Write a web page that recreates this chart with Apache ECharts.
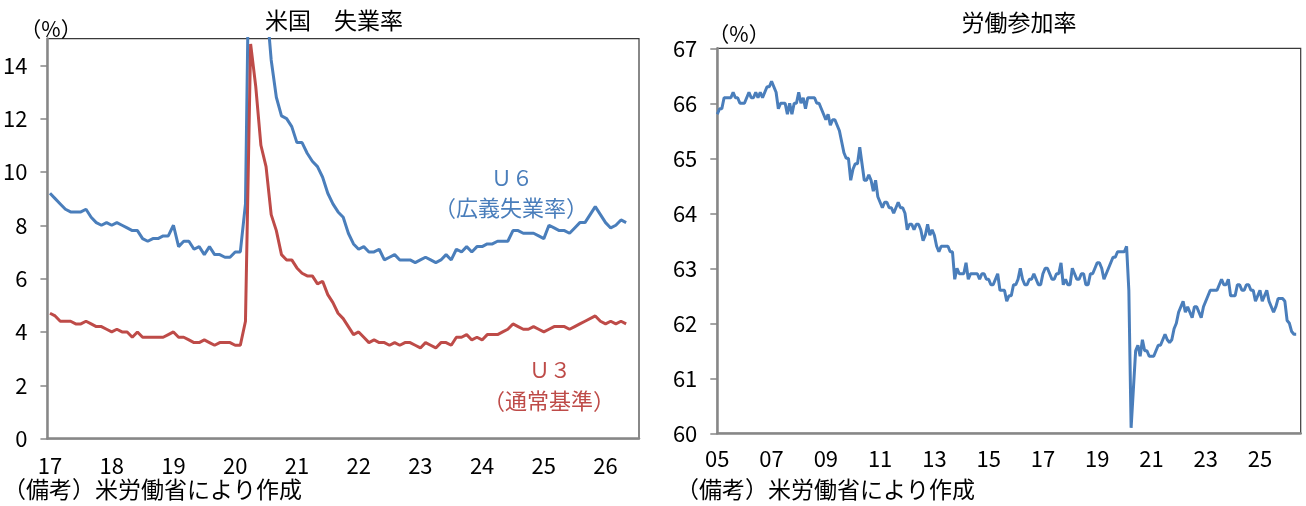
<!DOCTYPE html>
<html>
<head>
<meta charset="utf-8">
<script src="https://cdn.jsdelivr.net/npm/echarts@6/dist/echarts.min.js"></script>
<style>
  html, body { margin: 0; padding: 0; background: #fff; }
  #chart { width: 1306px; height: 506px; }
</style>
</head>
<body>
<div id="chart"></div>
<script>
// 失業率（月次、2017/1〜2026/5）
const u6 = [
  9.2, 9.0, 8.8, 8.6, 8.5, 8.5, 8.5, 8.6, 8.3, 8.1, 8.0, 8.1,
  8.0, 8.1, 8.0, 7.9, 7.8, 7.8, 7.5, 7.4, 7.5, 7.5, 7.6, 7.6,
  8.0, 7.2, 7.4, 7.4, 7.1, 7.2, 6.9, 7.2, 6.9, 6.9, 6.8, 6.8,
  7.0, 7.0, 8.8, 22.9, 21.2, 18.0, 16.5, 14.2, 12.8, 12.1, 12.0, 11.7,
  11.1, 11.1, 10.7, 10.4, 10.2, 9.8, 9.2, 8.8, 8.5, 8.3, 7.7, 7.3,
  7.1, 7.2, 7.0, 7.0, 7.1, 6.7, 6.8, 6.9, 6.7, 6.7, 6.7, 6.6,
  6.7, 6.8, 6.7, 6.6, 6.7, 6.9, 6.7, 7.1, 7.0, 7.2, 7.0, 7.2,
  7.2, 7.3, 7.3, 7.4, 7.4, 7.4, 7.8, 7.8, 7.7, 7.7, 7.7, 7.6,
  7.5, 8.0, 7.9, 7.8, 7.8, 7.7, 7.9, 8.1, 8.1, null, 8.7, 8.4,
  8.1, 7.9, 8.0, 8.2, 8.1
]
const u3 = [
  4.7, 4.6, 4.4, 4.4, 4.4, 4.3, 4.3, 4.4, 4.3, 4.2, 4.2, 4.1,
  4.0, 4.1, 4.0, 4.0, 3.8, 4.0, 3.8, 3.8, 3.8, 3.8, 3.8, 3.9,
  4.0, 3.8, 3.8, 3.7, 3.6, 3.6, 3.7, 3.6, 3.5, 3.6, 3.6, 3.6,
  3.5, 3.5, 4.4, 14.8, 13.2, 11.0, 10.2, 8.4, 7.8, 6.9, 6.7, 6.7,
  6.4, 6.2, 6.1, 6.1, 5.8, 5.9, 5.4, 5.1, 4.7, 4.5, 4.2, 3.9,
  4.0, 3.8, 3.6, 3.7, 3.6, 3.6, 3.5, 3.6, 3.5, 3.6, 3.6, 3.5,
  3.4, 3.6, 3.5, 3.4, 3.6, 3.6, 3.5, 3.8, 3.8, 3.9, 3.7, 3.8,
  3.7, 3.9, 3.9, 3.9, 4.0, 4.1, 4.3, 4.2, 4.1, 4.1, 4.2, 4.1,
  4.0, 4.1, 4.2, 4.2, 4.2, 4.1, 4.2, 4.3, 4.4, null, 4.6, 4.4,
  4.3, 4.4, 4.3, 4.4, 4.3
]
// 労働参加率（月次、2005/1〜2026/5）
const lfpr = [
  65.8, 65.9, 65.9, 66.1, 66.1, 66.1, 66.1, 66.2, 66.1, 66.1, 66.0, 66.0,
  66.0, 66.1, 66.2, 66.1, 66.1, 66.2, 66.1, 66.2, 66.1, 66.2, 66.3, 66.3,
  66.4, 66.3, 66.2, 65.9, 66.0, 66.0, 66.0, 65.8, 66.0, 65.8, 66.0, 66.0,
  66.2, 66.0, 66.1, 65.9, 66.1, 66.1, 66.1, 66.1, 66.0, 66.0, 65.9, 65.8,
  65.7, 65.8, 65.6, 65.7, 65.7, 65.6, 65.5, 65.3, 65.1, 65.0, 65.0, 64.6,
  64.8, 64.9, 64.9, 65.2, 64.9, 64.6, 64.6, 64.7, 64.6, 64.4, 64.6, 64.3,
  64.2, 64.1, 64.2, 64.2, 64.1, 64.1, 64.0, 64.1, 64.2, 64.1, 64.1, 64.0,
  63.7, 63.8, 63.8, 63.7, 63.8, 63.8, 63.7, 63.5, 63.6, 63.8, 63.6, 63.7,
  63.6, 63.4, 63.3, 63.4, 63.4, 63.4, 63.4, 63.3, 63.3, 62.8, 63.0, 62.9,
  62.9, 62.9, 63.1, 62.8, 62.9, 62.9, 62.9, 62.9, 62.8, 62.9, 62.9, 62.8,
  62.8, 62.7, 62.7, 62.8, 62.9, 62.6, 62.6, 62.6, 62.4, 62.5, 62.5, 62.7,
  62.7, 62.8, 63.0, 62.8, 62.7, 62.7, 62.8, 62.8, 62.9, 62.8, 62.7, 62.7,
  62.9, 63.0, 63.0, 62.9, 62.8, 62.8, 62.9, 62.9, 63.1, 62.7, 62.8, 62.7,
  62.7, 63.0, 62.9, 62.8, 62.8, 62.9, 62.9, 62.7, 62.7, 62.9, 62.9, 63.0,
  63.1, 63.1, 63.0, 62.8, 62.9, 63.0, 63.1, 63.2, 63.2, 63.3, 63.3, 63.3,
  63.3, 63.4, 62.6, 60.1, 60.8, 61.5, 61.6, 61.4, 61.7, 61.5, 61.5, 61.4,
  61.4, 61.4, 61.5, 61.6, 61.6, 61.7, 61.8, 61.7, 61.65, 61.7, 61.9, 62.0,
  62.2, 62.3, 62.4, 62.2, 62.3, 62.2, 62.1, 62.3, 62.3, 62.2, 62.1, 62.3,
  62.4, 62.5, 62.6, 62.6, 62.6, 62.6, 62.7, 62.8, 62.7, 62.7, 62.8, 62.5,
  62.5, 62.5, 62.7, 62.7, 62.6, 62.6, 62.7, 62.7, 62.6, 62.6, 62.4, 62.5,
  62.6, 62.4, 62.5, 62.6, 62.4, 62.3, 62.2, 62.3, 62.45, null, 62.45, 62.4,
  62.05, 62.0, 61.85, 61.8, 61.8
]
const u3Ticks = [0, 2, 4, 6, 8, 10, 12, 14]
const lfprTicks = [60, 61, 62, 63, 64, 65, 66, 67]

function monthList(startYear, count) {
  const out = []
  for (let i = 0; i < count; i++) {
    out.push(String(startYear + Math.floor(i / 12)) + '/' + (i % 12 + 1))
  }
  return out
}
const monthsLeft = monthList(2017, 115)
const monthsRight = monthList(2005, 259)

const FONT = '"Noto Sans CJK JP", "Noto Sans", sans-serif'
const BLUE = '#4a7ebb'
const RED = '#be4b48'
const AXIS = '#878787'

function txt(text, x, y, size, color, align) {
  return {
    type: 'text',
    x: x, y: y,
    style: {
      text: text,
      fill: color || '#000',
      font: size + 'px ' + FONT,
      textAlign: align || 'center',
      textVerticalAlign: 'middle'
    }
  }
}

const myEcharts = echarts.init(document.getElementById('chart'))
myEcharts.setOption({
  animation: false,
  textStyle: { fontFamily: FONT },
  grid: [
    { left: 47, top: 38.6, width: 592, height: 400, show: true, borderColor: '#3a3a3a', borderWidth: 1.2 },
    { left: 717.3, top: 48.3, width: 583.4, height: 385, show: true, borderColor: '#3a3a3a', borderWidth: 1.2 }
  ],
  xAxis: [
    {
      type: 'category', gridIndex: 0, data: monthsLeft, boundaryGap: true,
      axisLine: { lineStyle: { color: AXIS, width: 2.5 } },
      axisTick: { show: false },
      axisLabel: {
        interval: (i) => i % 12 === 0,
        formatter: (v) => v.slice(2, 4),
        color: '#000', fontSize: 22, margin: 16, fontFamily: FONT
      },
      splitLine: { show: false }
    },
    {
      type: 'category', gridIndex: 1, data: monthsRight, boundaryGap: false,
      axisLine: { lineStyle: { color: AXIS, width: 2.5 } },
      axisTick: { show: false },
      axisLabel: {
        interval: (i) => i % 24 === 0,
        formatter: (v) => v.slice(2, 4),
        color: '#000', fontSize: 22, margin: 14, fontFamily: FONT
      },
      splitLine: { show: false }
    }
  ],
  yAxis: [
    {
      type: 'value', gridIndex: 0, min: 0, max: 15, interval: 2,
      axisLine: { show: true, lineStyle: { color: AXIS, width: 2.5 } },
      axisTick: { show: true, length: 7, lineStyle: { color: AXIS, width: 1.5 }, customValues: u3Ticks },
      axisLabel: { color: '#000', fontSize: 22, margin: 20, customValues: u3Ticks, fontFamily: FONT },
      splitLine: { show: false }
    },
    {
      type: 'value', gridIndex: 1, min: 60, max: 67, interval: 1,
      axisLine: { show: true, lineStyle: { color: AXIS, width: 2.5 } },
      axisTick: { show: true, length: 7, lineStyle: { color: AXIS, width: 1.5 }, customValues: lfprTicks },
      axisLabel: { color: '#000', fontSize: 22, margin: 20, customValues: lfprTicks, fontFamily: FONT },
      splitLine: { show: false }
    }
  ],
  series: [
    {
      name: 'U6', type: 'line', xAxisIndex: 0, yAxisIndex: 0, data: u6,
      showSymbol: false, connectNulls: true, clip: true,
      lineStyle: { color: BLUE, width: 3 }, itemStyle: { color: BLUE }
    },
    {
      name: 'U3', type: 'line', xAxisIndex: 0, yAxisIndex: 0, data: u3,
      showSymbol: false, connectNulls: true, clip: true,
      lineStyle: { color: RED, width: 3 }, itemStyle: { color: RED }
    },
    {
      name: '労働参加率', type: 'line', xAxisIndex: 1, yAxisIndex: 1, data: lfpr,
      showSymbol: false, connectNulls: true, clip: true,
      lineStyle: { color: BLUE, width: 3 }, itemStyle: { color: BLUE }
    }
  ],
  graphic: [
    txt('米国　失業率', 334, 20, 23),
    txt('労働参加率', 1019, 22, 23),
    txt('（%）', 51, 29, 21),
    txt('（%）', 739, 34, 21),
    txt('Ｕ６', 512, 178, 21, BLUE),
    txt('（広義失業率）', 511, 208, 22, BLUE),
    txt('Ｕ３', 550, 370, 21, RED),
    txt('（通常基準）', 549, 401, 22, RED),
    txt('（備考）米労働省により作成', 3, 489, 23, '#000', 'left'),
    txt('（備考）米労働省により作成', 676, 489, 23, '#000', 'left')
  ]
})
window.onresize = function () {
  myEcharts.resize()
}
</script>
</body>
</html>
